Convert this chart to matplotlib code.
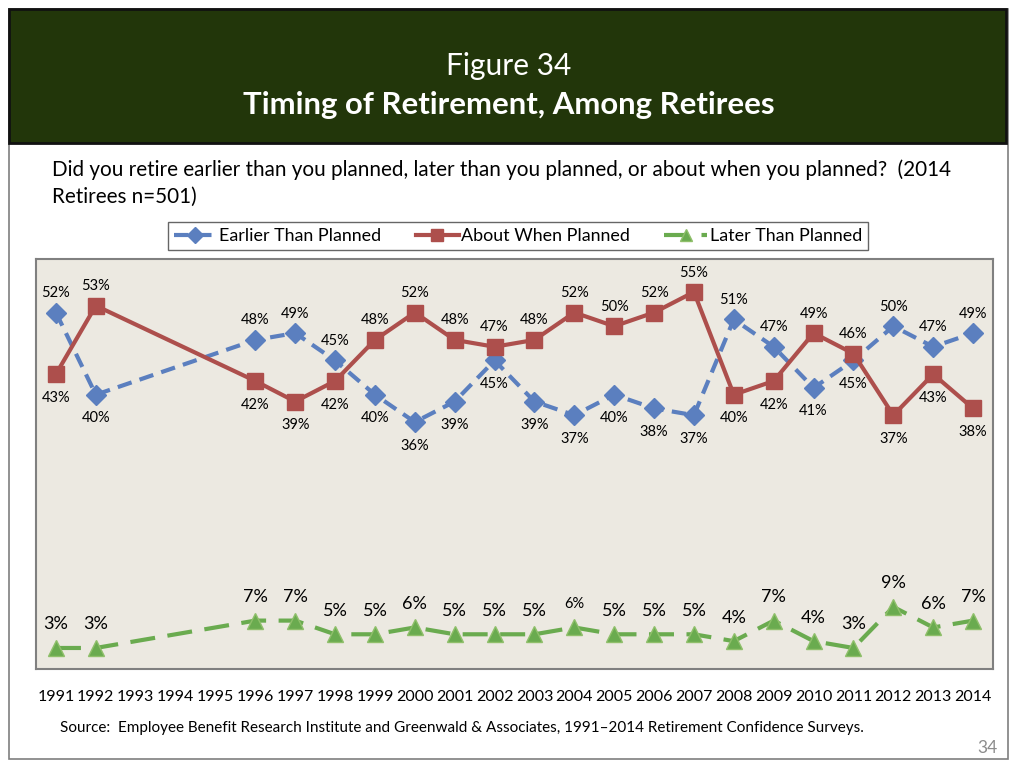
import matplotlib
matplotlib.use("Agg")
import matplotlib.pyplot as plt
from matplotlib.patches import Rectangle

# ---------------- data ----------------
years = [1991, 1992, 1996, 1997, 1998, 1999, 2000, 2001, 2002, 2003, 2004,
         2005, 2006, 2007, 2008, 2009, 2010, 2011, 2012, 2013, 2014]
tick_years = list(range(1991, 2015))
earlier = [52, 40, 48, 49, 45, 40, 36, 39, 45, 39, 37, 40, 38, 37, 51, 47, 41, 45, 50, 47, 49]
about = [43, 53, 42, 39, 42, 48, 52, 48, 47, 48, 52, 50, 52, 55, 40, 42, 49, 46, 37, 43, 38]
later = [3, 3, 7, 7, 5, 5, 6, 5, 5, 5, 6, 5, 5, 5, 4, 7, 4, 3, 9, 6, 7]
series_names = ["Earlier Than Planned", "About When Planned", "Later Than Planned"]

# label placement (1 = above, -1 = below)
earlier_pos = [1, -1, 1, 1, 1, -1, -1, -1, -1, -1, -1, -1, -1, -1, 1, 1, -1, -1, 1, 1, 1]
about_pos = [-1, 1, -1, -1, -1, 1, 1, 1, 1, 1, 1, 1, 1, 1, -1, -1, 1, 1, -1, -1, -1]

FONT = "Lato"
plt.rcParams['font.family'] = [FONT, 'DejaVu Sans']

W, H = 1012, 770
fig = plt.figure(figsize=(W / 100, H / 100), dpi=100)
fig.patch.set_facecolor("white")


def fx(x):
    return x / W


def fy(y):
    return 1 - y / H


# slide border
fig.patches.append(Rectangle((fx(9), fy(759)), fx(1008) - fx(9), fy(9) - fy(759),
                             transform=fig.transFigure, facecolor="none",
                             edgecolor="#7f7f7f", linewidth=1.2, zorder=-2))
# header
fig.patches.append(Rectangle((fx(9), fy(143)), fx(1006) - fx(9), fy(9) - fy(143),
                             transform=fig.transFigure, facecolor="#22360a",
                             edgecolor="#111111", linewidth=2, zorder=-1))
fig.text(fx(509), fy(66), "Figure 34", color="white", fontsize=21.5,
         ha="center", va="center")
fig.text(fx(509), fy(105), "Timing of Retirement, Among Retirees", color="white",
         fontsize=22.4, fontweight="bold", ha="center", va="center")

# subtitle
fig.text(fx(52), fy(170), "Did you retire earlier than you planned, later than you planned, "
         "or about when you planned?  (2014", fontsize=14.9, ha="left", va="center",
         color="black")
fig.text(fx(52), fy(197), "Retirees n=501)", fontsize=14.9, ha="left", va="center",
         color="black")

# axes
ax = fig.add_axes([fx(36), fy(669), fx(993) - fx(36), fy(259) - fy(669)])
ax.set_facecolor("#ece9e1")
for s in ax.spines.values():
    s.set_color("#808080")
    s.set_linewidth(1.5)
ax.set_xlim(1990.5, 2014.5)
ax.set_ylim(-0.07, 59.82)
ax.set_yticks([])
ax.set_xticks(tick_years)
ax.set_xticklabels([str(y) for y in tick_years], fontsize=11.5)
ax.tick_params(axis="x", length=0, pad=15)

blue = "#5b7fbf"
red = "#ad4f4c"
green = "#6aab4f"

l1, = ax.plot(years, earlier, color=blue, lw=3, dashes=(3.5, 2),
              marker="D", markersize=10, markerfacecolor=blue, markeredgecolor=blue,
              zorder=3, label=series_names[0])
l2, = ax.plot(years, about, color=red, lw=3, marker="s", markersize=11.5,
              markerfacecolor=red, markeredgecolor=red, zorder=3, label=series_names[1])
l3, = ax.plot(years, later, color=green, lw=3, dashes=(6, 3), marker="^",
              markersize=11, markerfacecolor=green, markeredgecolor="#8fbf6a",
              zorder=3, label=series_names[2])

for x, v, p in zip(years, earlier, earlier_pos):
    ax.annotate(f"{v}%", (x, v), xytext=(0, 14 if p > 0 else -17),
                textcoords="offset points", ha="center", va="center", fontsize=10.5)
for x, v, p in zip(years, about, about_pos):
    ax.annotate(f"{v}%", (x, v), xytext=(0, 14 if p > 0 else -17),
                textcoords="offset points", ha="center", va="center", fontsize=10.5)
for x, v in zip(years, later):
    fs = 10.5 if x == 2004 else 13
    ax.annotate(f"{v}%", (x, v), xytext=(0, 17),
                textcoords="offset points", ha="center", va="center", fontsize=fs)

# legend box
leg = fig.legend(handles=[l1, l2, l3], loc="center",
                 bbox_to_anchor=(fx(518), fy(236)), ncol=3, frameon=True,
                 fontsize=12.9, handlelength=2.4, handletextpad=0.15,
                 columnspacing=1.9, borderpad=0.35, fancybox=False,
                 markerscale=0.8)
leg.get_frame().set_edgecolor("#404040")
leg.get_frame().set_linewidth(1.0)

# source
fig.text(fx(462), fy(728), "Source:  Employee Benefit Research Institute and Greenwald & "
         "Associates, 1991\u20132014 Retirement Confidence Surveys.", fontsize=11,
         ha="center", va="center", color="black")
fig.text(fx(998), fy(748), "34", fontsize=12.5, ha="right", va="center", color="#8c8c8c")

fig.savefig("out.png", dpi=100)
